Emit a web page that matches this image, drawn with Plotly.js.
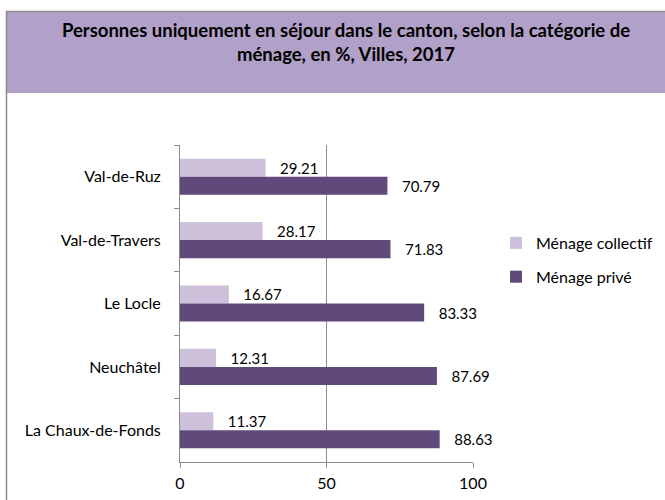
<!DOCTYPE html>
<html>
<head>
<meta charset="utf-8">
<script src="https://cdn.plot.ly/plotly-3.0.1.min.js"></script>
<style>
  html, body { margin: 0; padding: 0; background: #fff; }
  #chart { width: 665px; height: 500px; }
</style>
</head>
<body>
<div id="chart"></div>
<script>
    // Data (top to bottom as shown)
    var villes = ['Val-de-Ruz', 'Val-de-Travers', 'Le Locle', 'Neuchâtel', 'La Chaux-de-Fonds'];
    var collectif = [29.21, 28.17, 16.67, 12.31, 11.37];
    var prive = [70.79, 71.83, 83.33, 87.69, 88.63];
    var xTicks = [0, 50, 100];

    var W = 665, H = 500;
    var margin = { l: 180, r: 192, t: 145, b: 38, autoexpand: false };
    var pw = W - margin.l - margin.r;
    var ph = H - margin.t - margin.b;

    // pixel -> paper helpers for the decoration shapes
    function px(x) { return (x - margin.l) / pw; }
    function py(y) { return (H - margin.b - y) / ph; }

    var font = 'Lato, "Open Sans", sans-serif';
    var pad = '\u00a0\u00a0\u00a0';

    var traceCollectif = {
        type: 'bar',
        orientation: 'h',
        name: 'Ménage collectif',
        legendgroup: 'a',
        y: villes,
        x: collectif,
        marker: { color: '#CCC0DA' },
        text: collectif.map(function(v) { return pad + v.toFixed(2); }),
        textposition: 'outside',
        constraintext: 'none',
        cliponaxis: false,
        textfont: { family: font, size: 15, color: '#000' },
        hoverinfo: 'x+y'
    };

    var tracePrive = {
        type: 'bar',
        orientation: 'h',
        name: 'Ménage privé',
        legendgroup: 'b',
        y: villes,
        x: prive,
        marker: { color: '#604A7B' },
        text: prive.map(function(v) { return pad + v.toFixed(2); }),
        textposition: 'outside',
        constraintext: 'none',
        cliponaxis: false,
        textfont: { family: font, size: 15, color: '#000' },
        hoverinfo: 'x+y'
    };

    var layout = {
        width: W,
        height: H,
        margin: margin,
        paper_bgcolor: '#fff',
        plot_bgcolor: '#fff',
        font: { family: font, size: 16, color: '#000' },
        barmode: 'group',
        bargap: 0.43,
        bargroupgap: 0,
        title: {
            text: 'Personnes uniquement en séjour dans le canton, selon la catégorie de<br>ménage, en %, Villes, 2017',
            font: { family: font, size: 18.5, weight: 'bold', color: '#000' },
            xref: 'container',
            yref: 'container',
            x: 346 / W,
            xanchor: 'center',
            y: 1 - 37 / H,
            yanchor: 'top'
        },
        xaxis: {
            range: [0, 100],
            tickvals: xTicks,
            ticktext: xTicks.map(String),
            showgrid: true,
            gridcolor: '#8C8C8C',
            gridwidth: 1,
            zeroline: false,
            showline: true,
            linecolor: '#8C8C8C',
            ticks: 'outside',
            ticklen: 5,
            tickcolor: '#8C8C8C',
            ticklabelstandoff: 2,
            tickfont: { family: font, size: 16, color: '#000' },
            fixedrange: true
        },
        yaxis: {
            type: 'category',
            autorange: 'reversed',
            showgrid: false,
            zeroline: false,
            showline: true,
            linecolor: '#8C8C8C',
            ticks: 'outside',
            tickson: 'boundaries',
            ticklen: 5,
            tickcolor: '#8C8C8C',
            ticklabelstandoff: 15,
            tickfont: { family: font, size: 16, color: '#000' },
            fixedrange: true
        },
        showlegend: true,
        legend: {
            x: px(496),
            xanchor: 'left',
            y: py(226),
            yanchor: 'top',
            traceorder: 'grouped',
            tracegroupgap: 10,
            font: { family: font, size: 16, color: '#000' },
            bgcolor: 'rgba(0,0,0,0)'
        },
        shapes: [
            {
                type: 'rect', xref: 'paper', yref: 'paper', layer: 'below',
                x0: px(6), x1: px(670), y0: py(12), y1: py(93),
                fillcolor: '#B1A0C7', line: { width: 0 }
            },
            {
                type: 'rect', xref: 'paper', yref: 'paper', layer: 'below',
                x0: px(6.5), x1: px(700), y0: py(11.5), y1: py(520),
                fillcolor: 'rgba(0,0,0,0)', line: { color: '#8C8C8C', width: 1.5 }
            }
        ]
    };

    Plotly.newPlot('chart', [traceCollectif, tracePrive], layout, { displayModeBar: false, staticPlot: true });
</script>
</body>
</html>
